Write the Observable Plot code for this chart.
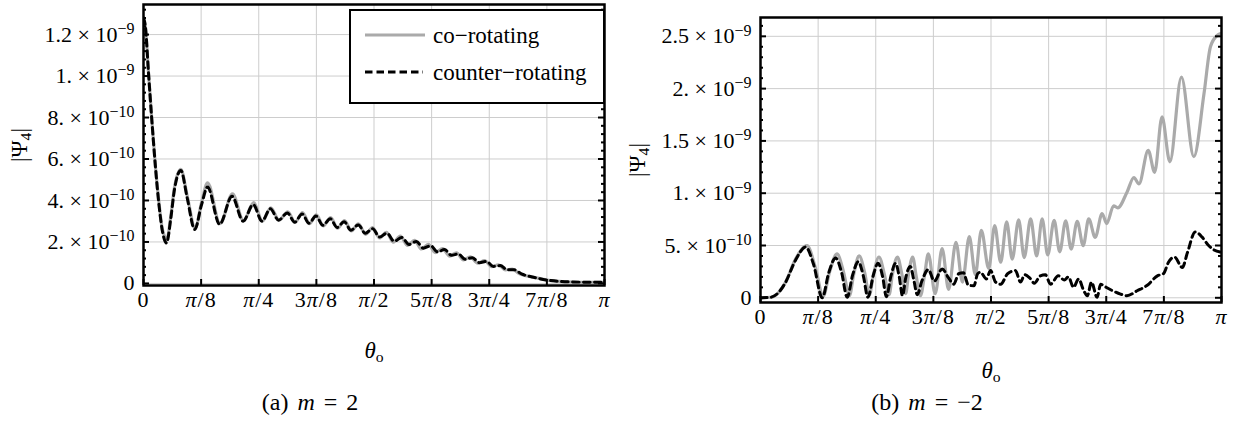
<!DOCTYPE html>
<html>
<head>
<meta charset="utf-8">
<script src="https://cdn.jsdelivr.net/npm/d3@7"></script>
<script src="https://cdn.jsdelivr.net/npm/@observablehq/plot@0.6"></script>
<style>
  body { margin: 0; background: #fff; }
  #fig { position: relative; width: 1252px; height: 430px; overflow: hidden; background: #fff;
         font-family: "Liberation Serif", "DejaVu Serif", serif; color: #000; }
  .panel { position: absolute; top: 0; }
  .lab { position: absolute; white-space: nowrap; line-height: 1; transform: translate(-50%, -50%); font-size: 23px; }
  .lab sub { font-size: 0.68em; vertical-align: -0.3em; line-height: 0; }
  .rot { transform: translate(-50%, -50%) rotate(-90deg); }
  .cap { font-size: 24px; word-spacing: 3px; }
  .legend { position: absolute; box-sizing: border-box; border: 2px solid #000; background: #fff; }
  .legtext { position: absolute; font-size: 23px; line-height: 1; white-space: nowrap; transform: translateY(-50%); }
</style>
</head>
<body>
<div id="fig"></div>
<script>
// Polar angle θ_o is stored in units of π; |Ψ4| in units of 1e-10.
const thetaTicks = [0, 1/8, 2/8, 3/8, 4/8, 5/8, 6/8, 7/8, 1];
const thetaTickLabels = ["0", "π/8", "π/4", "3π/8", "π/2", "5π/8", "3π/4", "7π/8", "π"];

const leftYTicks = [0, 2, 4, 6, 8, 10, 12];
const leftYTickLabels = ["0", "2. × 10^−10", "4. × 10^−10", "6. × 10^−10", "8. × 10^−10", "1. × 10^−9", "1.2 × 10^−9"];
const rightYTicks = [0, 5, 10, 15, 20, 25];
const rightYTickLabels = ["0", "5. × 10^−10", "1. × 10^−9", "1.5 × 10^−9", "2. × 10^−9", "2.5 × 10^−9"];

const seriesNames = ["co−rotating", "counter−rotating"];

// (a) m = 2 — [θ/π, |Ψ4|]
const leftCo = [
  [0.000,12.8],[0.004,12.4],[0.011,10.1],[0.018,7.9],[0.026,5.6],[0.034,3.8],[0.041,2.6],[0.051,2.15],
  [0.059,3.2],[0.067,4.6],[0.081,5.5],[0.095,4.2],[0.112,2.65],[0.126,3.9],[0.139,4.85],[0.166,2.88],
  [0.193,4.32],[0.217,3.02],[0.239,3.9],[0.258,3.0],[0.276,3.65],[0.294,3.05],[0.313,3.45],[0.329,2.95],
  [0.345,3.42],[0.360,2.88],[0.375,3.31],[0.390,2.78],[0.406,3.18],[0.421,2.66],[0.436,3.03],[0.451,2.53],
  [0.466,2.87],[0.482,2.37],[0.497,2.69],[0.512,2.19],[0.527,2.46],[0.542,1.99],[0.557,2.28],[0.573,1.83],
  [0.588,2.08],[0.603,1.66],[0.618,1.88],[0.633,1.49],[0.649,1.68],[0.664,1.32],[0.679,1.48],[0.694,1.14],
  [0.709,1.28],[0.725,0.98],[0.740,1.10],[0.755,0.81],[0.770,0.89],[0.785,0.65],[0.800,0.69],[0.816,0.46],
  [0.846,0.30],[0.879,0.15],[0.930,0.07],[1.000,0.05]
];
const leftCounter = [
  [0.000,12.8],[0.004,12.4],[0.011,10.1],[0.018,7.9],[0.026,5.6],[0.034,3.7],[0.042,2.4],[0.050,1.95],
  [0.059,3.1],[0.067,4.5],[0.081,5.45],[0.095,4.1],[0.111,2.6],[0.126,3.8],[0.139,4.65],[0.165,2.85],
  [0.192,4.2],[0.216,3.0],[0.238,3.8],[0.257,3.0],[0.275,3.6],[0.293,3.05],[0.312,3.4],[0.328,2.95],
  [0.344,3.35],[0.359,2.9],[0.374,3.25],[0.389,2.8],[0.405,3.12],[0.420,2.7],[0.435,2.98],[0.450,2.57],
  [0.466,2.82],[0.481,2.42],[0.497,2.64],[0.512,2.24],[0.528,2.42],[0.544,2.03],[0.560,2.22],[0.576,1.88],
  [0.592,2.02],[0.607,1.70],[0.623,1.82],[0.638,1.52],[0.653,1.63],[0.668,1.36],[0.683,1.42],[0.698,1.16],
  [0.713,1.24],[0.729,1.00],[0.744,1.06],[0.759,0.82],[0.774,0.86],[0.789,0.66],[0.804,0.66],[0.820,0.46],
  [0.846,0.30],[0.879,0.15],[0.930,0.07],[1.000,0.05]
];

// (b) m = −2 — [θ/π, |Ψ4|]
const rightCo = [
  [0.000,0.0],[0.022,0.05],[0.039,0.5],[0.054,1.45],[0.076,3.7],[0.101,4.98],[0.119,2.9],[0.136,0.15],
  [0.150,2.5],[0.166,4.2],[0.180,2.5],[0.193,0.2],[0.202,2.2],[0.214,4.0],[0.226,2.4],[0.236,0.25],
  [0.245,2.2],[0.257,3.9],[0.269,2.2],[0.279,0.3],[0.286,2.2],[0.297,3.9],[0.306,2.4],[0.315,0.4],
  [0.321,2.2],[0.330,3.9],[0.338,2.0],[0.347,0.2],[0.356,2.2],[0.364,4.2],[0.379,0.4],[0.394,4.7],
  [0.408,0.8],[0.424,5.3],[0.438,1.5],[0.453,5.84],[0.466,2.2],[0.479,6.45],[0.495,2.8],[0.508,6.9],
  [0.521,3.4],[0.534,7.25],[0.546,3.7],[0.560,7.45],[0.572,3.85],[0.586,7.54],[0.599,4.0],[0.611,7.55],
  [0.623,4.1],[0.637,7.4],[0.649,4.4],[0.662,7.35],[0.674,4.66],[0.687,7.3],[0.700,4.98],[0.712,7.54],
  [0.726,5.78],[0.741,8.05],[0.751,7.1],[0.766,8.8],[0.775,8.6],[0.795,10.1],[0.810,11.5],[0.821,10.9],
  [0.841,14.1],[0.855,12.0],[0.871,17.3],[0.888,13.0],[0.913,21.1],[0.940,13.5],[0.962,19.5],[0.976,24.0],
  [0.991,25.1],[1.000,25.3]
];
const rightCounter = [
  [0.000,0.0],[0.022,0.05],[0.039,0.5],[0.054,1.45],[0.076,3.6],[0.098,4.85],[0.115,3.2],[0.134,0.0],
  [0.148,2.4],[0.163,3.8],[0.176,2.4],[0.188,0.05],[0.200,2.2],[0.212,3.45],[0.223,2.1],[0.233,0.05],
  [0.245,2.2],[0.255,3.3],[0.265,2.0],[0.273,0.1],[0.283,2.1],[0.293,3.3],[0.301,2.0],[0.308,0.2],
  [0.315,1.9],[0.325,3.0],[0.333,1.6],[0.340,0.3],[0.350,1.6],[0.364,2.7],[0.377,1.6],[0.394,2.75],
  [0.408,1.9],[0.419,1.3],[0.430,2.3],[0.440,2.4],[0.451,1.2],[0.463,1.15],[0.471,2.3],[0.477,2.45],
  [0.490,1.8],[0.499,2.6],[0.510,1.5],[0.521,1.3],[0.536,2.3],[0.553,2.6],[0.564,1.5],[0.573,2.2],
  [0.584,1.9],[0.594,1.4],[0.607,2.1],[0.618,2.2],[0.629,1.3],[0.646,2.1],[0.659,1.7],[0.668,2.0],
  [0.679,1.0],[0.690,1.8],[0.701,0.7],[0.709,0.2],[0.718,1.5],[0.730,0.05],[0.738,1.3],[0.746,1.1],
  [0.764,0.67],[0.781,0.35],[0.795,0.2],[0.817,0.67],[0.839,1.2],[0.861,2.1],[0.874,2.3],[0.885,3.4],
  [0.898,3.9],[0.915,2.9],[0.926,4.3],[0.943,6.3],[0.958,5.8],[0.970,5.1],[0.983,4.6],[1.000,4.35]
];

const FONT = "'Liberation Serif', 'DejaVu Serif', serif";
const GRID = "#cdcdcd";
const CO_COLOR = "#aaaaaa";
const SVGNS = "http://www.w3.org/2000/svg";

function panel({left, width, height, ml, mr, mt, mb, yDomain, yTicks, yLabels, minorStep, co, counter}) {
  const W = width - ml - mr, H = height - mt - mb;
  const minor = d3.range(Math.max(0, yDomain[0]), yDomain[1], minorStep)
    .filter(v => !yTicks.some(t => Math.abs(t - v) < 1e-9));
  const svg = Plot.plot({
    width, height, marginLeft: ml, marginRight: mr, marginTop: mt, marginBottom: mb,
    style: {fontFamily: FONT, fontSize: "22px", background: "transparent", color: "black", overflow: "visible"},
    x: {domain: [0, 1], axis: null},
    y: {domain: yDomain, axis: null},
    marks: [
      Plot.gridX(thetaTicks, {stroke: GRID, strokeOpacity: 1, strokeWidth: 1}),
      Plot.gridY(yTicks, {stroke: GRID, strokeOpacity: 1, strokeWidth: 1}),
      Plot.line(co, {x: d => d[0], y: d => d[1], stroke: CO_COLOR, strokeWidth: 3.2, curve: "monotone-x", clip: true}),
      Plot.line(counter, {x: d => d[0], y: d => d[1], stroke: "black", strokeWidth: 3, strokeDasharray: "6.5,4.5", curve: "monotone-x", clip: true}),
      // inward frame ticks
      Plot.tickY(yTicks, {y: d => d, stroke: "black", strokeWidth: 2, insetRight: W - 6}),
      Plot.tickY(yTicks, {y: d => d, stroke: "black", strokeWidth: 2, insetLeft: W - 6}),
      Plot.tickY(minor, {y: d => d, stroke: "black", strokeWidth: 2, insetRight: W - 3}),
      Plot.tickY(minor, {y: d => d, stroke: "black", strokeWidth: 2, insetLeft: W - 3}),
      Plot.tickX(thetaTicks, {x: d => d, stroke: "black", strokeWidth: 2, insetTop: H - 6}),
      Plot.frame({stroke: "black", strokeWidth: 2.5}),
      Plot.axisX(thetaTicks, {tickSize: 0, tickPadding: 6, fontSize: 22,
        tickFormat: d => thetaTickLabels[thetaTicks.indexOf(d)]}),
      Plot.axisY(yTicks, {anchor: "left", tickSize: 0, tickPadding: 9, fontSize: 22,
        tickFormat: d => yLabels[yTicks.indexOf(d)]})
    ]
  });
  // powers of ten as raised text
  svg.querySelectorAll('g[aria-label="y-axis tick label"] text').forEach(t => {
    const s = t.textContent, i = s.indexOf("^");
    if (i < 0) return;
    t.textContent = s.slice(0, i);
    const sup = document.createElementNS(SVGNS, "tspan");
    sup.setAttribute("dy", "-0.48em");
    sup.setAttribute("font-size", "16");
    sup.textContent = s.slice(i + 1);
    t.appendChild(sup);
  });
  // italic π in the angle labels
  svg.querySelectorAll('g[aria-label="x-axis tick label"] text').forEach(t => {
    const s = t.textContent;
    t.setAttribute("letter-spacing", "1");
    if (!s.includes("π")) return;
    t.textContent = "";
    for (const part of s.split(/(π)/)) {
      if (!part) continue;
      const span = document.createElementNS(SVGNS, "tspan");
      if (part === "π") span.setAttribute("font-style", "italic");
      span.textContent = part;
      t.appendChild(span);
    }
  });
  const wrap = document.createElement("div");
  wrap.className = "panel";
  wrap.style.left = left + "px";
  wrap.appendChild(svg);
  return wrap;
}

const fig = document.getElementById("fig");

fig.appendChild(panel({
  left: 0, width: 626, height: 320, ml: 143, mr: 22, mt: 4, mb: 35,
  yDomain: [-0.1, 13.45], yTicks: leftYTicks, yLabels: leftYTickLabels, minorStep: 0.4,
  co: leftCo, counter: leftCounter
}));
fig.appendChild(panel({
  left: 626, width: 626, height: 335, ml: 134, mr: 31, mt: 17, mb: 33,
  yDomain: [-0.45, 26.8], yTicks: rightYTicks, yLabels: rightYTickLabels, minorStep: 1,
  co: rightCo, counter: rightCounter
}));

function addLabel(html, x, y, cls = "lab") {
  const el = document.createElement("div");
  el.className = cls;
  el.innerHTML = html;
  el.style.left = x + "px";
  el.style.top = y + "px";
  fig.appendChild(el);
  return el;
}

// axis titles
const psi = "|Ψ<sub>4</sub>|";
const theta = "<i>θ</i><sub>o</sub>";
addLabel(psi, 19, 145, "lab rot");
addLabel(psi, 637, 160, "lab rot");
addLabel(theta, 374, 350);
addLabel(theta, 991, 370);

// sub-figure captions
addLabel("(a) <i>m</i> = 2", 310, 402, "lab cap");
addLabel("(b) <i>m</i> = −2", 927, 402, "lab cap");

// legend in panel (a)
const legend = document.createElement("div");
legend.className = "legend";
Object.assign(legend.style, {left: "349px", top: "9px", width: "256px", height: "95px"});
fig.appendChild(legend);
const ls = d3.select(fig).append("svg")
  .attr("width", 1252).attr("height", 430)
  .style("position", "absolute").style("left", 0).style("top", 0).style("pointer-events", "none");
ls.append("line").attr("x1", 365).attr("x2", 425).attr("y1", 35).attr("y2", 35)
  .attr("stroke", CO_COLOR).attr("stroke-width", 3);
ls.append("line").attr("x1", 365).attr("x2", 423).attr("y1", 72).attr("y2", 72)
  .attr("stroke", "black").attr("stroke-width", 3).attr("stroke-dasharray", "7.5,4");
seriesNames.forEach((name, i) => {
  const el = document.createElement("div");
  el.className = "legtext";
  el.textContent = name;
  el.style.left = "433px";
  el.style.top = (i === 0 ? 35 : 72) + "px";
  fig.appendChild(el);
});
</script>
</body>
</html>
